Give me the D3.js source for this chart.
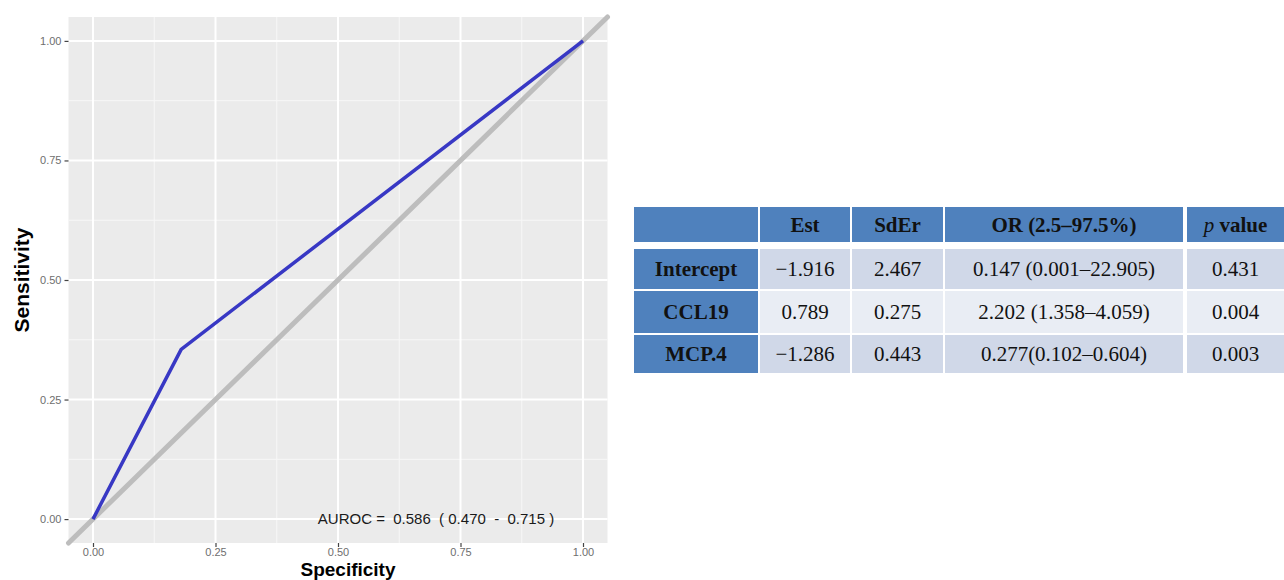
<!DOCTYPE html>
<html>
<head>
<meta charset="utf-8">
<script src="https://cdn.jsdelivr.net/npm/d3@7"></script>
<style>
  body { margin: 0; background: #fff; }
  svg { display: block; }
</style>
</head>
<body>
<div id="chart"></div>
<script>
// ROC curve points
const rocSpecificity = [0, 0.18, 1];
const rocSensitivity = [0, 0.355, 1];
const xTicks = [0, 0.25, 0.5, 0.75, 1];
const yTicks = [0, 0.25, 0.5, 0.75, 1];
const minorTicks = [0.125, 0.375, 0.625, 0.875];
const aurocLabel = "AUROC =  0.586  ( 0.470  -  0.715 )";

// Logistic regression table
const tableHeader = ["", "Est", "SdEr", "OR (2.5\u201397.5%)", "p value"];
const rowNames = ["Intercept", "CCL19", "MCP.4"];
const estValues = ["\u22121.916", "0.789", "\u22121.286"];
const sdErValues = ["2.467", "0.275", "0.443"];
const orValues = ["0.147 (0.001\u201322.905)", "2.202 (1.358\u20134.059)", "0.277(0.102\u20130.604)"];
const pValues = ["0.431", "0.004", "0.003"];

function drawChart(width, height, selector) {

  let svg = d3.select(selector)
    .append("svg")
    .attr("width", width)
    .attr("height", height);

  //// ROC panel ////
  let xScale = d3.scaleLinear().domain([-0.05, 1.05]).range([68.5, 607.5]);
  let yScale = d3.scaleLinear().domain([-0.05, 1.05]).range([543, 17]);

  let panel = svg.append("g").attr("class", "panel");

  panel.append("rect")
    .attr("x", xScale(-0.05))
    .attr("y", yScale(1.05))
    .attr("width", xScale(1.05) - xScale(-0.05))
    .attr("height", yScale(-0.05) - yScale(1.05))
    .attr("fill", "#ebebeb");

  // minor grid
  panel.selectAll(".minor-x").data(minorTicks).join("line")
    .attr("x1", d => xScale(d)).attr("x2", d => xScale(d))
    .attr("y1", yScale(-0.05)).attr("y2", yScale(1.05))
    .attr("stroke", "#f7f7f7").attr("stroke-width", 1);
  panel.selectAll(".minor-y").data(minorTicks).join("line")
    .attr("y1", d => yScale(d)).attr("y2", d => yScale(d))
    .attr("x1", xScale(-0.05)).attr("x2", xScale(1.05))
    .attr("stroke", "#f7f7f7").attr("stroke-width", 1);

  // major grid
  panel.selectAll(".major-x").data(xTicks).join("line")
    .attr("x1", d => xScale(d)).attr("x2", d => xScale(d))
    .attr("y1", yScale(-0.05)).attr("y2", yScale(1.05))
    .attr("stroke", "#ffffff").attr("stroke-width", 2);
  panel.selectAll(".major-y").data(yTicks).join("line")
    .attr("y1", d => yScale(d)).attr("y2", d => yScale(d))
    .attr("x1", xScale(-0.05)).attr("x2", xScale(1.05))
    .attr("stroke", "#ffffff").attr("stroke-width", 2);

  // reference diagonal
  panel.append("line")
    .attr("x1", xScale(-0.05)).attr("y1", yScale(-0.05))
    .attr("x2", xScale(1.05)).attr("y2", yScale(1.05))
    .attr("stroke", "#bdbdbd")
    .attr("stroke-width", 5)
    .attr("stroke-linecap", "round");

  // ROC line
  let line = d3.line()
    .x(d => xScale(d[0]))
    .y(d => yScale(d[1]));

  panel.append("path")
    .datum(d3.zip(rocSpecificity, rocSensitivity))
    .attr("d", line)
    .attr("fill", "none")
    .attr("stroke", "#3838c4")
    .attr("stroke-width", 3.5)
    .attr("stroke-linejoin", "round");

  panel.append("text")
    .text(aurocLabel)
    .style("white-space", "pre")
    .attr("x", xScale(0.7))
    .attr("y", yScale(0))
    .attr("dy", "0.35em")
    .attr("text-anchor", "middle")
    .attr("font-family", "Liberation Sans, Arial, sans-serif")
    .attr("font-size", 15)
    .attr("fill", "#1a1a1a");

  // axes
  let xAxis = d3.axisBottom(xScale)
    .tickValues(xTicks)
    .tickSize(4)
    .tickPadding(1)
    .tickFormat(d3.format(".2f"));

  svg.append("g")
    .attr("class", "axis x-axis")
    .attr("transform", "translate(0," + yScale(-0.05) + ")")
    .call(xAxis);

  let yAxis = d3.axisLeft(yScale)
    .tickValues(yTicks)
    .tickSize(4)
    .tickPadding(3)
    .tickFormat(d3.format(".2f"));

  svg.append("g")
    .attr("class", "axis y-axis")
    .attr("transform", "translate(" + xScale(-0.05) + ",0)")
    .call(yAxis);

  svg.selectAll(".axis .domain").remove();
  svg.selectAll(".axis .tick line").attr("stroke", "#444").attr("stroke-width", 1.2);
  svg.selectAll(".axis .tick text")
    .attr("fill", "#6e6e6e")
    .attr("font-family", "Liberation Sans, Arial, sans-serif")
    .attr("font-size", 11);

  svg.append("text")
    .text("Specificity")
    .attr("x", 348)
    .attr("y", 576)
    .attr("text-anchor", "middle")
    .attr("font-family", "Liberation Sans, Arial, sans-serif")
    .attr("font-weight", "bold")
    .attr("font-size", 19)
    .attr("fill", "#000");

  svg.append("text")
    .text("Sensitivity")
    .attr("transform", "translate(29," + ((yScale(-0.05) + yScale(1.05)) / 2) + ") rotate(-90)")
    .attr("text-anchor", "middle")
    .attr("font-family", "Liberation Sans, Arial, sans-serif")
    .attr("font-weight", "bold")
    .attr("font-size", 21)
    .attr("fill", "#000");

  //// Table ////
  let colEdges = [634, 760, 852, 945, 1187];
  let colWidths = [124, 90, 91, 238, 97];
  let rowTops = [207, 249, 291, 335];
  let rowHeights = [35, 40, 42, 38];

  let tableRows = rowNames.map((name, i) => [name, estValues[i], sdErValues[i], orValues[i], pValues[i]]);
  let table = svg.append("g").attr("class", "table");

  let bodyFill = ["#d0d8e8", "#e9edf4", "#d0d8e8"];
  let blue = "#4f81bd";
  let tableFont = "Liberation Serif, Times New Roman, serif";

  // header
  tableHeader.forEach((h, j) => {
    table.append("rect")
      .attr("x", colEdges[j]).attr("y", rowTops[0])
      .attr("width", colWidths[j]).attr("height", rowHeights[0])
      .attr("fill", blue);
    let t = table.append("text")
      .attr("x", colEdges[j] + colWidths[j] / 2)
      .attr("y", rowTops[0] + rowHeights[0] / 2)
      .attr("dy", "0.35em")
      .attr("text-anchor", "middle")
      .attr("font-family", tableFont)
      .attr("font-size", 21)
      .attr("font-weight", "bold")
      .attr("fill", "#111");
    if (h === "p value") {
      t.append("tspan").text("p").attr("font-style", "italic").attr("font-weight", "normal");
      t.append("tspan").text(" value");
    } else {
      t.text(h);
    }
  });

  tableRows.forEach((row, i) => {
    row.forEach((cell, j) => {
      table.append("rect")
        .attr("x", colEdges[j]).attr("y", rowTops[i + 1])
        .attr("width", colWidths[j]).attr("height", rowHeights[i + 1])
        .attr("fill", j === 0 ? blue : bodyFill[i]);
      table.append("text")
        .text(cell)
        .attr("x", colEdges[j] + colWidths[j] / 2)
        .attr("y", rowTops[i + 1] + rowHeights[i + 1] / 2)
        .attr("dy", "0.35em")
        .attr("text-anchor", "middle")
        .attr("font-family", tableFont)
        .attr("font-size", 21)
        .attr("font-weight", j === 0 ? "bold" : "normal")
        .attr("fill", "#111");
    });
  });
}

drawChart(1284, 580, "#chart");
</script>
</body>
</html>
